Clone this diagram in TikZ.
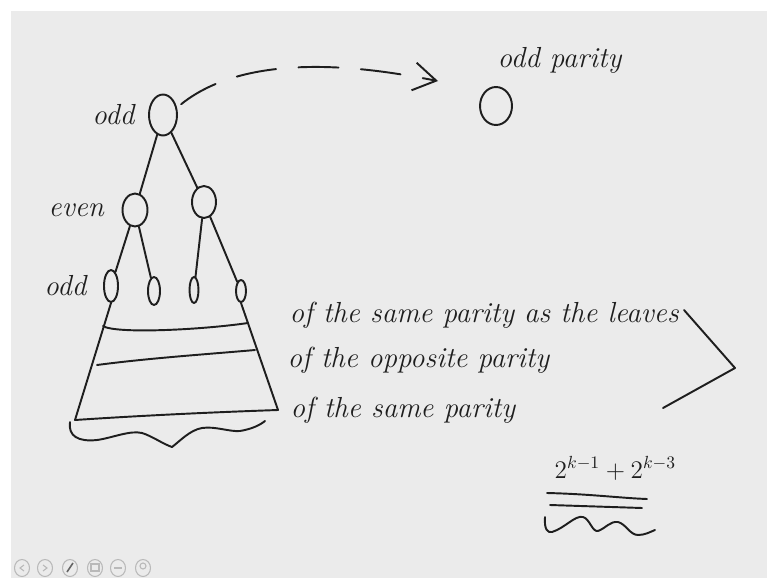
\documentclass[tikz,border=0pt]{standalone}
\usepackage{fontspec}
\usetikzlibrary{arrows.meta,positioning,shapes.geometric}
\definecolor{inkc}{HTML}{1E1E1E}
\definecolor{slidebg}{HTML}{EBEBEB}
\newcommand{\handfont}{\fontsize{16.5}{19}\selectfont\itshape}

\begin{document}
\begin{tikzpicture}[x=0.02cm,y=-0.02cm,line width=1.1pt,
  ink/.style={draw=inkc,line width=1.1pt,line cap=round,line join=round},
  vtx/.style={ellipse,ink,inner sep=0pt},
  lbl/.style={text=inkc,font=\handfont,inner sep=1pt},
  jump/.style={ink,dash pattern=on 0.8cm off 0.45cm,-{Straight Barb[length=4.5mm,width=5.6mm]}},
  icon/.style={draw=gray!55,line width=0.6pt}]
\useasboundingbox (0,0) rectangle (767,578);
% ================= slide =================
\fill[white] (0,0) rectangle (767,578);
\fill[slidebg] (11,11) rectangle (767,578);
% ================= tree =================
\node[vtx,minimum width=0.56cm,minimum height=0.82cm] (root) at (163,115) {};
\node[vtx,minimum width=0.5cm,minimum height=0.66cm] (lc) at (135,210) {};
\node[vtx,minimum width=0.48cm,minimum height=0.64cm] (rc) at (204,202) {};
\node[vtx,minimum width=0.28cm,minimum height=0.64cm] (l1) at (111,286) {};
\node[vtx,minimum width=0.24cm,minimum height=0.56cm] (l2) at (154,291) {};
\node[vtx,minimum width=0.18cm,minimum height=0.52cm] (l3) at (194,290) {};
\node[vtx,minimum width=0.2cm,minimum height=0.44cm] (l4) at (241,291) {};
\node[lbl,left=0.22cm of root] (oddtop) {odd};
\node[lbl,left=0.3cm of lc] (evenlbl) {even};
\node[lbl,left=0.28cm of l1] (oddleaf) {odd};
\draw[ink] (root) -- (lc);
\draw[ink] (root) -- (rc);
\draw[ink] (lc) -- (l1);
\draw[ink] (lc) -- (l2);
\draw[ink] (rc) -- (l3);
\draw[ink] (rc) -- (l4);
% lower levels as a trapezoid
\coordinate (bl) at (75,420);
\coordinate (br) at (278,410);
\draw[ink] (l1.south) -- (bl);
\draw[ink] (l4.south) -- (br);
\draw[ink] (103,326) .. controls (115,334) and (200,330) .. (248,323);
\draw[ink] (97,365) .. controls (150,358) and (210,354) .. (255,350);
\draw[ink] (bl) .. controls (150,415) and (220,412) .. (br);
% brace under the base
\draw[ink] (70,422) .. controls (68,436) and (78,442) .. (97,440)
  .. controls (112,438) and (130,430) .. (142,433)
  .. controls (152,436) and (163,444) .. (172,447)
  .. controls (180,441) and (190,430) .. (202,428)
  .. controls (215,426) and (230,432) .. (240,431)
  .. controls (252,429) and (260,425) .. (265,421);
% ================= single node =================
\node[vtx,minimum width=0.64cm,minimum height=0.76cm] (single) at (496,106) {};
\node[lbl,anchor=base west] (parlbl) at (495,67) {odd parity};
\coordinate (jumpend) at (438,81);
\draw[jump] ([xshift=3pt]root.40) .. controls (255,45) and (390,72) .. (jumpend);
% ================= level notes =================
\node[lbl,anchor=base west] (same1) at (287,322) {of the same parity as the leaves};
\node[lbl,anchor=base west] (opp) at (285,367) {of the opposite parity};
\node[lbl,anchor=base west] (same2) at (288,417) {of the same parity};
\coordinate (bra) at (684,310);
\coordinate (brtip) at (735,368);
\coordinate (brb) at (663,408);
\draw[ink] (bra) -- (brtip) -- (brb);
% ================= count =================
\node[lbl,font=\fontsize{14.5}{17}\selectfont,anchor=base west] (sum) at (552,478) {$2^{k-1}+2^{k-3}$};
\draw[ink] (547,493) .. controls (590,494) and (620,498) .. (647,499);
\draw[ink] (550,505) -- (642,508);
\draw[ink] (545,517) .. controls (544,530) and (548,533) .. (552,532)
  .. controls (565,528) and (575,515) .. (583,517)
  .. controls (590,519) and (592,532) .. (598,531)
  .. controls (606,528) and (610,521) .. (618,522)
  .. controls (626,524) and (630,535) .. (638,535)
  .. controls (645,535) and (650,532) .. (655,530);
% ================= toolbar =================
\foreach \xx in {22,45,70,95,118,143}
  \draw[icon] (\xx,568) ellipse (7.5 and 8.5);
\draw[icon] (24,565) -- (20,568) -- (24,571);
\draw[icon] (43,565) -- (47,568) -- (43,571);
\draw[draw=gray!80!black,line width=0.9pt] (67,572) -- (73,563);
\draw[icon] (91,564) rectangle (99,571);
\draw[icon] (114,568) -- (122,568);
\draw[icon] (143,566) circle (3);
\end{tikzpicture}
\end{document}
